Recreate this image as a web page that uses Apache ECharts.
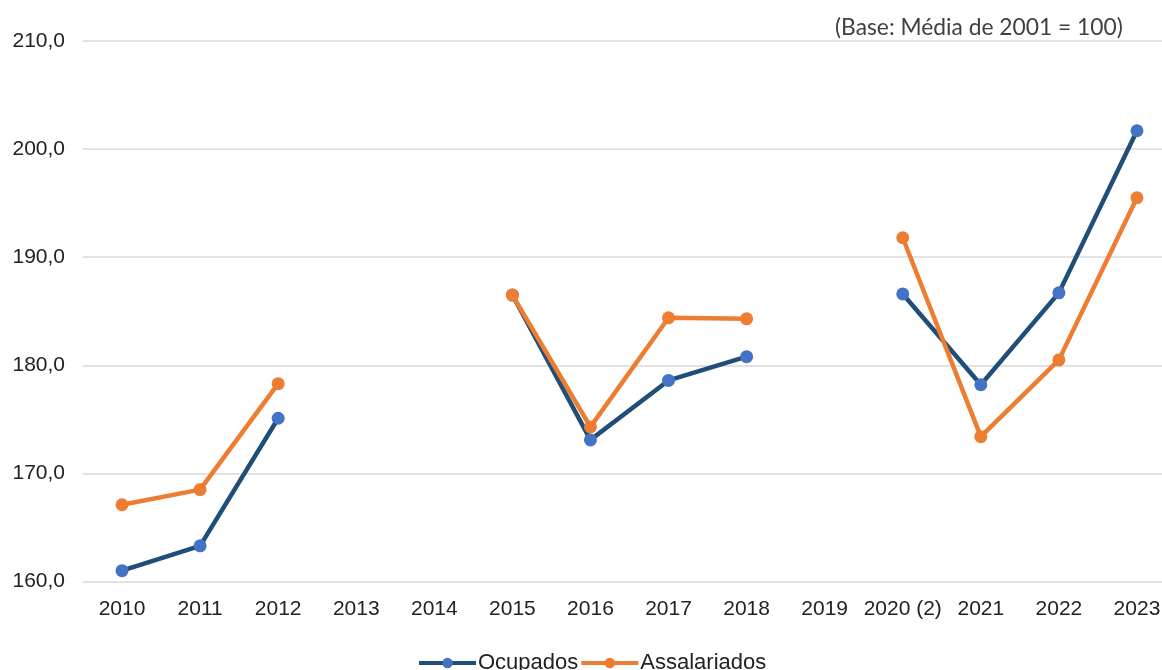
<!DOCTYPE html>
<html>
<head>
<meta charset="utf-8">
<script src="https://cdn.jsdelivr.net/npm/echarts@6/dist/echarts.min.js"></script>
<style>
  html, body { margin: 0; padding: 0; background: #fff; }
  #container { width: 1162px; height: 670px; }
</style>
</head>
<body>
<div id="container"></div>
<script>
var anos = ['2010', '2011', '2012', '2013', '2014', '2015', '2016', '2017', '2018', '2019', '2020 (2)', '2021', '2022', '2023'];
var ocupados = [161.0, 163.3, 175.1, null, null, 186.5, 173.1, 178.6, 180.8, null, 186.6, 178.2, 186.7, 201.7];
var assalariados = [167.1, 168.5, 178.3, null, null, 186.5, 174.3, 184.4, 184.3, null, 191.8, 173.4, 180.5, 195.5];
var eixoY = { min: 160, max: 210, interval: 10 };
var nota = '(Base: Média de 2001 = 100)';

var fonte = '"Liberation Sans", Arial, sans-serif';
var chart = echarts.init(document.getElementById('container'));
var option = {
  animation: false,
  backgroundColor: '#fff',
  graphic: [{
    type: 'text',
    left: 835,
    top: 16,
    style: { text: nota, font: '22.8px Lato, sans-serif', fill: '#404040' }
  }],
  legend: {
    top: 647,
    left: 412,
    itemWidth: 57,
    itemHeight: 13,
    itemGap: 1,
    lineStyle: { width: 4 },
    textStyle: { fontSize: 22, fontFamily: fonte, color: '#222', padding: [0, 0, 0, -3] },
    data: ['Ocupados', 'Assalariados']
  },
  grid: { left: 83, top: 41, right: -14, bottom: 88.5, containLabel: false, outerBoundsMode: 'none' },
  xAxis: {
    type: 'category',
    data: anos,
    boundaryGap: true,
    axisLine: { show: false },
    axisTick: { show: false },
    axisLabel: { color: '#222', fontSize: 21, fontFamily: fonte, margin: 17, interval: 0 }
  },
  yAxis: {
    type: 'value',
    min: eixoY.min,
    max: eixoY.max,
    interval: eixoY.interval,
    axisLine: { show: false },
    axisTick: { show: false },
    axisLabel: {
      color: '#222', fontSize: 21, fontFamily: fonte, margin: 18,
      formatter: function (v) { return v.toFixed(1).replace('.', ','); }
    },
    splitLine: { lineStyle: { color: '#d9d9d9', width: 1.5 } }
  },
  series: [{
    name: 'Ocupados',
    type: 'line',
    data: ocupados,
    connectNulls: false,
    symbol: 'circle',
    symbolSize: 13,
    lineStyle: { color: '#1f4e79', width: 4.5 },
    itemStyle: { color: '#4472c4' },
    z: 2
  }, {
    name: 'Assalariados',
    type: 'line',
    data: assalariados,
    connectNulls: false,
    symbol: 'circle',
    symbolSize: 13,
    lineStyle: { color: '#ed7d31', width: 4.5 },
    itemStyle: { color: '#ed7d31' },
    z: 3
  }]
};
chart.setOption(option);
</script>
</body>
</html>
